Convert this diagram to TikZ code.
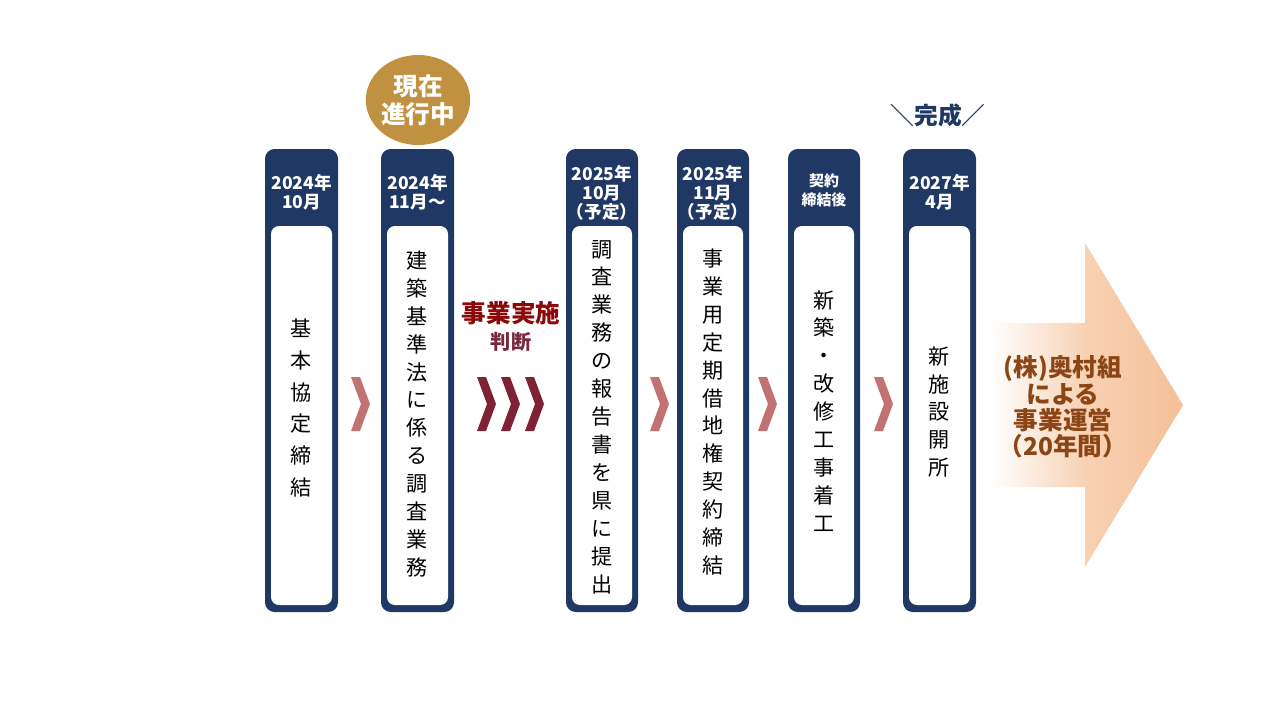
\documentclass[tikz,border=0pt]{standalone}
\usepackage{fontspec}
\setmainfont{Noto Sans CJK JP}
\usetikzlibrary{shapes.geometric}

\definecolor{navy}{RGB}{31,56,100}
\definecolor{gold}{RGB}{192,145,64}
\definecolor{chevpink}{RGB}{194,114,114}
\definecolor{chevdark}{RGB}{128,34,54}
\definecolor{judgered}{RGB}{140,8,8}
\definecolor{judgemaroon}{RGB}{122,38,62}
\definecolor{opbrown}{RGB}{140,70,22}
\pgfdeclarehorizontalshading{peachfade}{100bp}{rgb(0bp)=(1,1,1); rgb(25bp)=(1,1,1); rgb(50bp)=(0.97,0.82,0.70); rgb(75bp)=(0.96,0.75,0.60); rgb(100bp)=(0.96,0.75,0.60)}

\begin{document}
\begin{tikzpicture}[x=0.02cm,y=-0.02cm,
  colbox/.style={fill=navy,rounded corners=5.5pt},
  inbox/.style={fill=white,rounded corners=4.5pt},
  head/.style={text=white,align=center,inner sep=0pt,font=\bfseries\fontsize{10}{10.8}\selectfont},
  body/.style={align=center,inner sep=0pt,font=\fontsize{12}{15.9}\selectfont},
  chevlight/.style={fill=chevpink},
  chevheavy/.style={fill=chevdark}]
				\useasboundingbox (0,0) rectangle (1280,720);
				
				% columns
				\fill[colbox] (265,149) rectangle (338,612);
				\fill[inbox] (271,226) rectangle (332,605);
				\fill[colbox] (381,149) rectangle (454,612);
				\fill[inbox] (387,226) rectangle (448,605);
				\fill[colbox] (566,149) rectangle (638,612);
				\fill[inbox] (572,226) rectangle (632,605);
				\fill[colbox] (677,149) rectangle (749,612);
				\fill[inbox] (683,226) rectangle (743,605);
				\fill[colbox] (788,149) rectangle (860,612);
				\fill[inbox] (794,226) rectangle (854,605);
				\fill[colbox] (903,149) rectangle (976,612);
				\fill[inbox] (909,226) rectangle (970,605);
				
				% dates
				\node[head] (h1) at (301.5,192) {2024年\\10月};
				\node[head] (h2) at (417.5,192) {2024年\\11月～};
				\node[head] (h3) at (602,193) {2025年\\10月\\（予定）};
				\node[head] (h4) at (713,193) {2025年\\11月\\（予定）};
				\node[head, font=\bfseries\fontsize{8.5}{10.8}\selectfont] (h5) at (824,190) {契約\\締結後};
				\node[head] (h6) at (939.5,192) {2027年\\4月};
				
				% steps
				\node[body, font=\fontsize{12}{18.1}\selectfont] (t1) at (301.5,408) {基\\本\\協\\定\\締\\結};
				\node[body] (t2) at (417.5,414) {建\\築\\基\\準\\法\\に\\係\\る\\調\\査\\業\\務};
				\node[body] (t3) at (602,417) {調\\査\\業\\務\\の\\報\\告\\書\\を\\県\\に\\提\\出};
				\node[body] (t4) at (713,412) {事\\業\\用\\定\\期\\借\\地\\権\\契\\約\\締\\結};
				\node[body] (t5) at (824,411) {新\\築\\・\\改\\修\\工\\事\\着\\工};
				\node[body] (t6) at (939.5,412) {新\\施\\設\\開\\所};
				
				% badges
				\node[ellipse, fill=gold, text=white, align=center, inner sep=0pt, minimum width=2.02cm, minimum height=1.8cm, font=\bfseries\fontsize{14}{16}\selectfont] (now) at (418,100) {現在\\進行中};
				\node[text=navy, inner sep=0pt, font=\bfseries\fontsize{13.5}{14}\selectfont] (done) at (938,115) {＼完成／};
				
				\node[text=judgered, inner sep=0pt, font=\bfseries\fontsize{14}{15}\selectfont] (judge) at (511,313) {事業実施};
				\node[text=judgemaroon, inner sep=0pt, font=\bfseries\fontsize{11.5}{12}\selectfont] (judgeb) at (511,342) {判断};
				
				% chevrons
				\fill[chevlight, shift={(351,377)}] (0,0) -- (9,0) -- (19,27) -- (9,54) -- (0,54) -- (10,27) -- cycle;
				\fill[chevheavy, shift={(477,377)}] (0,0) -- (9,0) -- (19,27) -- (9,54) -- (0,54) -- (10,27) -- cycle;
				\fill[chevheavy, shift={(501,377)}] (0,0) -- (9,0) -- (19,27) -- (9,54) -- (0,54) -- (10,27) -- cycle;
				\fill[chevheavy, shift={(525,377)}] (0,0) -- (9,0) -- (19,27) -- (9,54) -- (0,54) -- (10,27) -- cycle;
				\fill[chevlight, shift={(650,377)}] (0,0) -- (9,0) -- (19,27) -- (9,54) -- (0,54) -- (10,27) -- cycle;
				\fill[chevlight, shift={(758,377)}] (0,0) -- (9,0) -- (19,27) -- (9,54) -- (0,54) -- (10,27) -- cycle;
				\fill[chevlight, shift={(874,377)}] (0,0) -- (9,0) -- (19,27) -- (9,54) -- (0,54) -- (10,27) -- cycle;
				
				% operation arrow
				\shade[shading=peachfade] (990,323) -- (1085,323) -- (1085,243) -- (1183,405) -- (1085,567) -- (1085,487) -- (990,487) -- cycle;
				\node[text=opbrown, align=center, inner sep=0pt, font=\bfseries\fontsize{14}{15}\selectfont] (op) at (1063,407) {(株)奥村組\\による\\事業運営\\（20年間）};
			\end{tikzpicture}
\end{document}
